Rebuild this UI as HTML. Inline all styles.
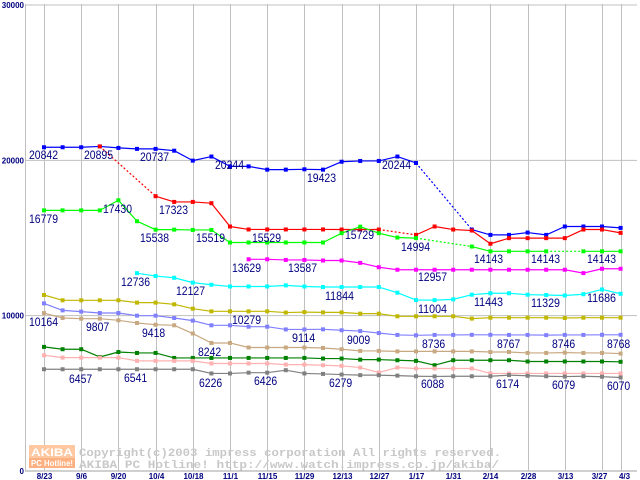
<!DOCTYPE html>
<html><head><meta charset="utf-8"><style>
body{margin:0;background:#fff;}
svg{display:block;}
</style></head><body>
<svg id="chart" width="640" height="480" xmlns="http://www.w3.org/2000/svg" font-family="Liberation Sans, sans-serif">
<g id="grid"></g>
<g id="wm">
  <rect x="29" y="445" width="46" height="13" fill="#ffc8a0"/>
  <rect x="29" y="458" width="46" height="10" fill="#ffb080"/>
  <text x="31" y="456" font-size="11" font-weight="bold" fill="#fff" textLength="42" lengthAdjust="spacingAndGlyphs">AKIBA</text>
  <text x="31" y="466" font-size="8" font-weight="bold" fill="#fff" textLength="42" lengthAdjust="spacingAndGlyphs">PC Hotline!</text>
  <text x="79" y="456" font-family="Liberation Mono, monospace" font-size="11" font-weight="bold" fill="#c8c8c8" textLength="422" lengthAdjust="spacingAndGlyphs">Copyright(c)2003 impress corporation All rights reserved.</text>
  <text x="79" y="468" font-family="Liberation Mono, monospace" font-size="11" font-weight="bold" fill="#c8c8c8" textLength="420" lengthAdjust="spacingAndGlyphs">AKIBA PC Hotline!  http://www.watch.impress.co.jp/akiba/</text>
</g>
<g id="series"></g>
<g id="labels" font-size="12" fill="#000080"></g>
</svg>
<script>
const xLabels=["8/23","9/6","9/20","10/4","10/18","11/1","11/15","11/29","12/13","12/27","1/17","1/31","2/14","2/28","3/13","3/27","4/3"];
const yTicks=[0,10000,20000,30000];
const N=null;
const blue=[20842,20842,20842,20895,20800,20737,20737,20620,19980,20244,19610,19610,19400,19400,19423,19400,19910,19960,19960,20244,19830,N,N,15545,15200,15200,15350,15200,15740,15740,15740,15650];
const red=[N,N,N,20895,N,N,17690,17323,17323,17240,15740,15550,15550,15550,15550,15550,15545,15545,15545,N,15200,15740,15545,15480,14630,14990,14990,14990,14990,15545,15545,15330];
const green=[16779,16779,16779,16779,17430,16080,15538,15538,15519,15519,14710,14710,14710,14710,14710,14710,15310,15729,15310,15030,14994,N,N,14450,14143,14143,14143,14143,N,14143,14143,14143];
const magenta=[N,N,N,N,N,N,N,N,N,N,N,13629,13629,13587,13587,13550,13550,13400,13120,12957,12957,12957,12957,12957,12957,12957,12957,12957,12957,12740,13020,13020];
const cyan=[N,N,N,N,N,12736,12550,12440,12127,11990,11880,11880,11880,11950,11880,11844,11844,11844,11844,11480,11004,11000,11050,11350,11443,11443,11350,11329,11300,11380,11686,11410];
const olive=[11330,10990,10990,10990,10990,10840,10840,10730,10450,10279,10279,10279,10279,10200,10230,10210,10210,10130,10130,9960,9960,9960,9960,9810,9870,9870,9870,9870,9850,9870,9870,9870];
const lightBlue=[10790,10340,10260,10170,10170,10000,10000,9850,9680,9380,9380,9290,9290,9114,9114,9120,9060,9009,8880,8760,8736,8760,8760,8767,8767,8760,8760,8746,8760,8760,8768,8768];
const tan=[10164,9850,9807,9807,9700,9530,9418,9380,8850,8242,8242,7950,7950,7950,7950,7920,7840,7730,7730,7700,7700,7700,7700,7700,7660,7660,7600,7600,7620,7600,7600,7560];
const darkGreen=[7990,7840,7840,7340,7660,7600,7600,7280,7280,7280,7280,7280,7280,7280,7280,7240,7240,7170,7170,7130,7090,6810,7130,7130,7130,7130,7050,7050,7050,7050,7050,7030];
const pink=[7450,7300,7300,7300,7300,7090,7090,7090,7090,6920,6920,6920,6920,6850,6850,6810,6770,6660,6340,6660,6600,6600,6600,6600,6280,6280,6280,6280,6280,6280,6280,6280];
const gray=[6550,6550,6550,6550,6550,6550,6550,6550,6550,6280,6280,6330,6330,6490,6280,6250,6210,6170,6170,6140,6100,6088,6100,6100,6100,6174,6130,6100,6079,6100,6070,6020];
const seriesList=[["blue",blue,"#0000ff"],["red",red,"#ff0000"],["green",green,"#00ff00"],["magenta",magenta,"#ff00ff"],["cyan",cyan,"#00ffff"],["olive",olive,"#c0b800"],["light-blue",lightBlue,"#8080ff"],["tan",tan,"#c8a880"],["dark-green",darkGreen,"#008000"],["pink",pink,"#ffb0b0"],["gray",gray,"#808080"]];
const labelTexts=[["20842",29,155],["20895",84,155],["20737",140,157],["20244",215,165],["19423",307,178],["20244",382,165],["16779",29,219],["17430",103,209],["17323",159,210],["15538",140,238],["15519",196,238],["15529",252,238],["15729",345,235],["14994",401,247],["14143",474,259],["14143",531,259],["14143",587,259],["13629",232,268],["13587",288,268],["12957",418,277],["12736",121,282],["12127",176,291],["11844",325,296],["11004",418,309],["11443",474,302],["11329",531,303],["11686",587,298],["10279",232,320],["10164",29,322],["9807",86,327],["9418",142,333],["8242",198,352],["9114",292,338],["9009",347,340],["8736",422,344],["8767",497,344],["8746",552,344],["8768",607,344],["6457",69,379],["6541",124,378],["6226",199,383],["6426",254,381],["6279",329,383],["6088",421,384],["6174",496,384],["6079",552,385],["6070",607,386]];
const NS="http://www.w3.org/2000/svg";
const X0=44,DX=18.6,Y0=471,PY=466/30000;
const xs=i=>X0+i*DX, ys=v=>Y0-v*PY;
function mk(tag,attrs,parent){const e=document.createElementNS(NS,tag);for(const k in attrs)e.setAttribute(k,attrs[k]);parent.appendChild(e);return e;}
const grid=document.getElementById('grid');
yTicks.forEach(t=>{
  const l=mk('line',{x1:25,x2:637,y1:ys(t),y2:ys(t),stroke:t===0?'#a0a0a0':'#c0c0c0','stroke-width':1},grid);
  
  
  const tx=mk('text',{x:24,y:ys(t)+3,'text-anchor':'end','font-size':8,'font-weight':'bold',fill:'#000080'},grid);
  tx.textContent=String(t);
  
  
});
const ax=mk('line',{x1:25.5,x2:25.5,y1:4,y2:471,stroke:'#c0c0c0'},grid);


xLabels.forEach((lb,k)=>{
  const i=k<16?k*2:31;
  const x=Math.round(xs(i))+0.5;
  const l=mk('line',{x1:x,x2:x,y1:4,y2:471,stroke:'#c0c0c0'},grid);
  
  
  const tx=mk('text',{x:k===15?x-3:(k===16?x+3:x),y:479,'text-anchor':'middle','font-size':8,'font-weight':'bold',fill:'#000080'},grid);
  tx.textContent=lb;
  
  
});
const sg=document.getElementById('series');
seriesList.forEach(([name,data,col])=>{
  const g=mk('g',{},sg);
  
  
  let prev=-1;
  data.forEach((v,i)=>{
    if(v===null)return;
    if(prev>=0){
      const l=mk('line',{x1:xs(prev),y1:ys(data[prev]),x2:xs(i),y2:ys(v),stroke:col,'stroke-width':1.2},g);
      if(i-prev>1)l.setAttribute('stroke-dasharray','2,2');
      
      
    }
    prev=i;
  });
  data.forEach((v,i)=>{
    if(v===null)return;
    const r=mk('rect',{x:xs(i)-2,y:ys(v)-2,width:4,height:4,fill:col},g);
    
    
  });
});
const lg=document.getElementById('labels');
labelTexts.forEach(([t,x,y])=>{
  const tx=mk('text',{x:x,y:y+4,textLength:t.length*5.8,lengthAdjust:'spacingAndGlyphs'},lg);
  tx.textContent=t;
  
  
});
</script>
</body></html>
